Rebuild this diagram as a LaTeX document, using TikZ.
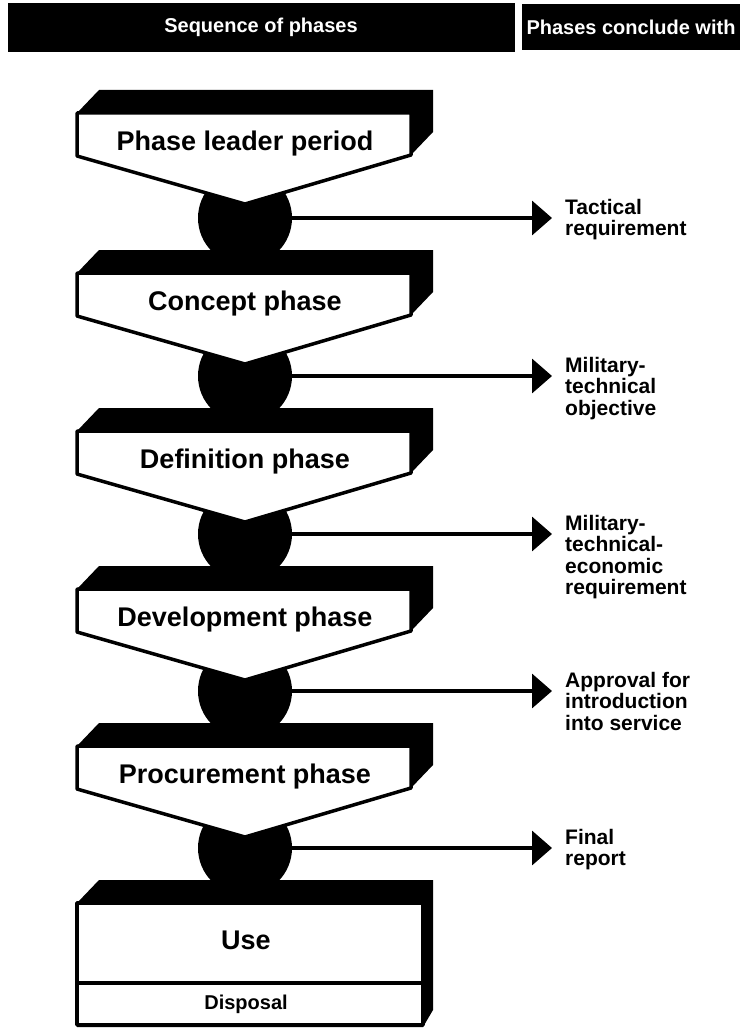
\documentclass[tikz,border=0pt]{standalone}
\usepackage{fontspec}
\setmainfont{Liberation Sans}
\usetikzlibrary{arrows.meta}

\begin{document}
\begin{tikzpicture}[x=1pt, y=-1pt, >={Triangle[length=20pt,width=34pt]},
  phasebox/.style={draw=black, fill=white, line width=3.5pt, line join=round},
  depthface/.style={fill=black},
  globe/.style={circle, fill=black, minimum size=94pt, inner sep=0pt},
  phasetext/.style={font=\bfseries\fontsize{27}{30}\selectfont},
  outtext/.style={font=\bfseries\fontsize{21}{21.5}\selectfont, align=left, anchor=north west, inner sep=0pt},
  headtext/.style={font=\bfseries\fontsize{20}{22}\selectfont, text=white}]
  \useasboundingbox (0,0) rectangle (740,1030);
  \fill (8,3) rectangle (515,52);
  \fill (522,4) rectangle (740,50);
  \node[headtext] (hl) at (261,27) {Sequence of phases};
  \node[headtext] (hr) at (631,27) {Phases conclude with};
  \fill[depthface] (77,903) -- (99,880) -- (433,880) -- (433,1010) -- (423,1027) -- (77,1027) -- cycle;
  \draw[phasebox] (77,903) rectangle (423,1025);
  \draw[line width=3.5pt] (77,983) -- (423,983);
  \node[phasetext] (use) at (246,940) {Use};
  \node[font=\bfseries\fontsize{20}{22}\selectfont] (disp) at (246,1004) {Disposal};
  \foreach \k/\b/\n/\name in {5/723/880/Procurement phase, 4/566/723/Development phase,
      3/408/566/Definition phase, 2/250/408/Concept phase, 1/90/250/Phase leader period} {
    \node[globe] (c\k) at (245,\n-32) {};
    \coordinate (a\k) at (552,\n-32);
    \fill[depthface] (77,\b+23) -- (99,\b) -- (433,\b) -- (433,\b+42) -- (411,\b+65) -- cycle;
    \draw[phasebox] (77,\b+23) -- (411,\b+23) -- (411,\b+65) -- (245,\b+114) -- (77,\b+66) -- cycle;
    \node[phasetext] (p\k) at (245,\b+54) {\name};
  }
  \foreach \k/\txt in {1/{Tactical\\requirement}, 2/{Military-\\technical\\objective},
      3/{Military-\\technical-\\economic\\requirement}, 4/{Approval for\\introduction\\into service},
      5/{Final\\report}} {
    \draw[->, line width=3.5pt] (c\k) -- (a\k);
    \node[outtext] (o\k) at ([xshift=13pt, yshift=19pt]a\k) {\txt};
  }
\end{tikzpicture}
\end{document}
